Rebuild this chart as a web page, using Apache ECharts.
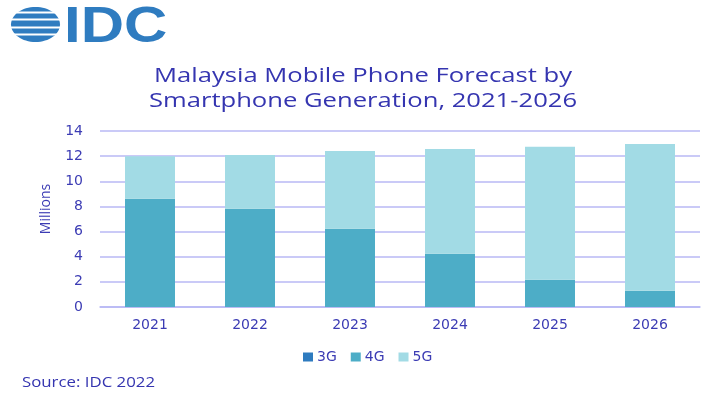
<!DOCTYPE html>
<html><head><meta charset="utf-8">
<script src="https://cdn.jsdelivr.net/npm/echarts@6/dist/echarts.min.js"></script>
<style>html,body{margin:0;padding:0;background:#fff}#c{width:725px;height:398px}</style>
</head><body><div id="c"></div>
<script>
const categories = ['2021','2022','2023','2024','2025','2026'];
const g3 = [0, 0, 0, 0, 0, 0];
const g4 = [8.62, 7.82, 6.23, 4.24, 2.17, 1.30];
const g5 = [3.38, 4.28, 6.17, 8.33, 10.58, 11.67];
const yTicks = [0, 2, 4, 6, 8, 10, 12, 14];
const titleLines = ['Malaysia Mobile Phone Forecast by', 'Smartphone Generation, 2021-2026'];

const txt = '#3c3cb4';
const font = '"Open Sans", sans-serif';
const wide = '"DejaVu Sans", sans-serif';
const chart = echarts.init(document.getElementById('c'));

const logoColor = '#2f7cc0';
const logo = [
  {type:'ellipse', shape:{cx: 35.5, cy: 24.5, rx: 24.5, ry: 17.5}, style:{fill: logoColor}}
];
[11.5, 18.5, 26.5, 33.5].forEach((y, i) => {
  logo.push({type:'rect', shape:{x: 8, y: y, width: 56, height: 2}, style:{fill:'#fff'}});
});

chart.setOption({
  animation: false,
  textStyle: {fontFamily: font},
  legend: {
    data: ['3G','4G','5G'],
    left: 298, top: 345,
    itemWidth: 10, itemHeight: 9, itemGap: 14,
    icon: 'rect',
    textStyle: {color: txt, fontSize: 14, fontFamily: wide, padding: [0,0,0,-1]}
  },
  grid: {left: 100, right: 25, top: 131, bottom: 91, containLabel: false},
  xAxis: {
    type: 'category', data: categories,
    axisLine: {lineStyle: {color: '#b8b8f5', width: 1.5}},
    axisTick: {show: false},
    axisLabel: {color: txt, fontSize: 14, margin: 11, fontFamily: wide}
  },
  yAxis: {
    type: 'value', min: 0, max: 14, interval: 2,
    axisLine: {show: false}, axisTick: {show: false},
    splitLine: {lineStyle: {color: '#b8b8f5', width: 1.5}},
    axisLabel: {color: txt, fontSize: 14, margin: 17, fontFamily: wide,
      formatter: v => yTicks.includes(v) ? String(v) : ''}
  },
  series: [
    {name:'3G', type:'bar', stack:'a', data: g3, barWidth: 50, itemStyle:{color:'#2e7bbf'}},
    {name:'4G', type:'bar', stack:'a', data: g4, barWidth: 50, itemStyle:{color:'#4dadc7'}},
    {name:'5G', type:'bar', stack:'a', data: g5, barWidth: 50, itemStyle:{color:'#a2dbe5'}}
  ],
  graphic: [
    {type:'group', children: logo},
    {type:'text', x: 64, y: 3, scaleX: 1.2, style:{text:'IDC', fill: logoColor, font: 'bold 50px "Liberation Sans", Arial, sans-serif'}},
    {type:'text', x: 363, y: 76, scaleX: 1.28, style:{text: titleLines[0], fill: '#3535b0', font: '20px ' + font, textAlign:'center', textVerticalAlign:'middle'}},
    {type:'text', x: 363, y: 101, scaleX: 1.28, style:{text: titleLines[1], fill: '#3535b0', font: '20px ' + font, textAlign:'center', textVerticalAlign:'middle'}},
    {type:'text', x: 46, y: 209, rotation: Math.PI/2, style:{text:'Millions', fill: txt, font: '14px ' + font, textAlign:'center', textVerticalAlign:'middle'}},
    {type:'text', x: 22, y: 383, scaleX: 1.2, style:{text:'Source: IDC 2022', fill: '#3535b0', font: '14px ' + font, textVerticalAlign:'middle'}}
  ]
});
</script></body></html>
